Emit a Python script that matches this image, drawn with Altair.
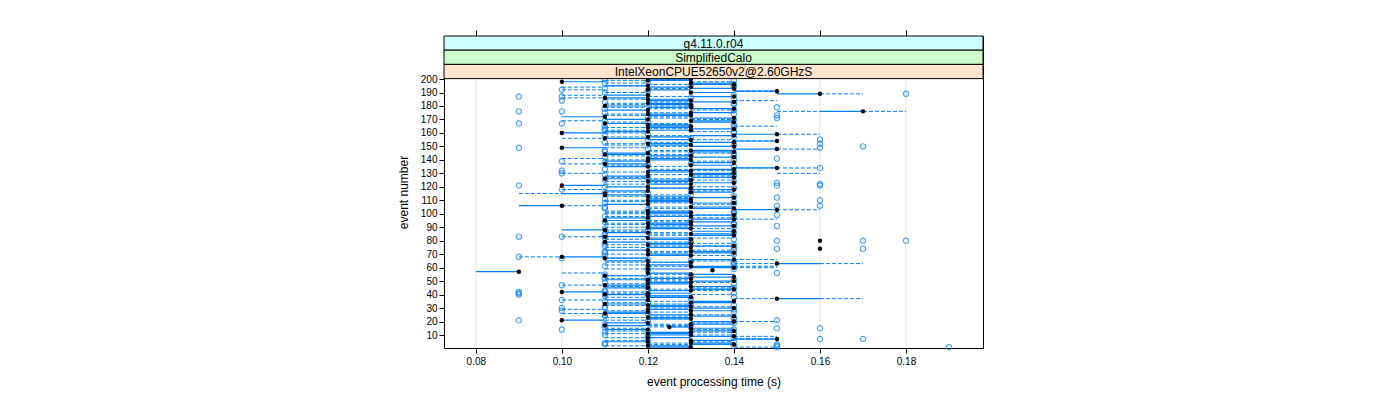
import altair as alt
import pandas as pd

# ---------------- data (times in hundredths of a second) ----------------
events = list(range(1, 201))

black = [13,12,14,13,12,13,15,12,14,13,
         12,13,14,12,13,12.5,11,13,12,14,
         10,13,12,14,13,11,12,13,12,14,
         13,12,11,13,14,12,15,13,12,11,
         12,10,13,14,12,13,11,12,13,14,
         12,13,14,11,13,12,9,13.5,12,14,
         13,12,15,13,12,14,11,10,13,12,
         14,13,12,16,13,14,12,13,11,16,
         13,12,11,14,13,12,14,11,13,12,
         14,13,12,13,11,14,12,13,14,12,
         13,12,15,14,13,10,12,14,13,12,
         13,14,12,11,11,13,12,14,13,12,
         10,13,14,12,13,11,14,12,13,14,
         12,13,14,15,12,13,11,14,12,13,
         12,14,13,11,12,14,13,15,10,14,
         13,12,14,15,13,11,12,14,15,10,
         12,13,14,12,13,12,11,14,13,12,
         14,11,13,12,13,17,12,14,13,11,
         13,12,14,13,12,11,14,12,16,13,
         15,12,14,13,12,14,13,10,12,13]

solid_to = [12,13,13,14,11,14,14,13,13,12,
            13,12,13,11,14,13,12,14,11,13,
            11,12,13,13,12,12,11,14,13,13,
            12,13,12,14,13,11,16,12,13,12,
            13,11,12,13,11,14,12,13,12,13,
            11,12,13,12,14,13,8,13.5,13,13,
            14,13,16,12,11,13,12,11,12,13,
            13,14,11,16,12,13,13,12,12,16,
            12,13,12,13,14,11,13,10,12,13,
            13,12,13,14,12,13,11,12,13,13,
            12,13,14,13,14,9,11,13,12,13,
            12,13,13,12,10,14,11,13,12,11,
            11,12,13,13,12,12,13,11,14,13,
            13,12,13,14,11,14,12,13,11,12,
            13,13,12,12,11,13,14,14,11,13,
            12,13,13,14,12,12,13,13,14,11,
            11,12,13,13,12,13,12,13,14,11,
            13,10,12,13,14,16,11,13,12,12,
            12,13,13,12,13,12,13,11,15,14,
            14,13,13,12,11,13,14,11,13,12]

dash_lo = [14,11,12,12,13,11,14,11,14,13,
           11,13,11,13,11,12,12,12,13,14,
           11,12,11,12,13,10,12,11,10,12,
           13,11,12,11,12,10,16,11,12,13,
           11,11,13,12,13,11,10,11,12,12,
           12,11,12,11,12,10,9,13,11,14,
           12,11,16,11,13,14,11,9,13,11,
           12,12,13,16,11,12,11,13,12,16,
           11,13,10,12,12,12,11,11,13,11,
           12,11,11,12,12,14,13,11,12,11,
           11,11,15,12,12,10,13,12,11,11,
           12,12,11,12,9,11,13,10,12,13,
           10,11,12,11,13,12,11,13,12,15,
           11,13,12,15,12,11,10,12,13,11,
           10,12,11,12,13,12,12,15,11,12,
           11,11,12,14,13,10,11,12,15,11,
           13,11,12,11,14,12,12,11,10,13,
           12,12,11,11,12,15,13,12,11,12,
           11,11,12,14,11,10,12,10,16,11,
           14,10,12,10,11,12,11,13,11,12]

dash_hi = [15,12,13,13,14,12,15,12,15,14,
           12,14,12,14,12,13,13,13,14,15,
           12,13,12,13,14,11,13,12,11,13,
           14,12,13,12,13,11,17,12,13,14,
           12,12,14,14,14,12,11,12,14,13,
           13,12,13,12,13,11,9,13,12,15,
           13,12,17,13,14,15,12,10,14,12,
           13,13,14,16,12,14,12,14,13,16,
           12,14,11,13,13,13,12,12,14,12,
           13,12,12,13,13,15,14,12,14,12,
           12,12,16,13,13,11,14,13,12,12,
           13,13,12,13,10,12,14,11,13,14,
           11,12,13,12,14,13,12,14,13,16,
           12,14,13,16,13,12,11,12,14,12,
           11,13,12,13,14,13,13,16,12,13,
           12,12,14,15,14,11,12,14,16,12,
           14,12,13,12,15,13,13,12,11,14,
           13,13,12,12,13,16,14,13,12,13,
           12,12,13,15,12,11,13,11,17,12,
           15,11,13,11,12,13,12,14,12,13]

extra_dash_event = [176, 130, 7, 134, 63, 37, 61, 191]
extra_dash_lo = [17, 10, 14, 14, 14, 14, 14, 14]
extra_dash_hi = [18, 11, 15, 15, 15, 15, 15, 15]

circles = [[15,19],[14,15],[11,15],[11],[14],[12],[16,17],[14],[12],[11],
           [14],[11],[12],[10,14],[15,16],[11],[13],[11],[14],[12],
           [9,15],[14],[14],[11],[11],[12],[14],[10],[14],[10,11],
           [11],[14],[13],[12],[11],[10],[13],[14],[11],[9,12],
           [9,14],[9,11],[11],[12],[14],[12],[10],[14],[11],[12],
           [14],[11],[12],[13],[11],[15],[],[12],[14],[12],
           [11],[14],[14],[14],[13],[12],[10],[9],[11],[14],
           [11],[11],[14],[15,17],[14],[11],[14],[11],[13],[15,17,18],
           [14],[11],[9,10],[11],[11],[14],[12],[12],[11],[14],
           [15],[14],[14],[11],[13],[12],[14],[11],[15],[14],
           [14],[14],[12],[11],[11],[15,16],[14],[11],[14],[16],
           [11],[15],[14],[13],[12],[11],[13],[10],[14],[11],
           [9,15,16],[16],[15],[14],[11],[13],[12],[14],[11],[10],
           [14],[10],[11],[16],[14],[12],[13],[11],[10],[14],
           [15],[11],[14],[13],[14],[11],[11],[12],[9,16],[17],
           [14],[16],[11],[12],[16],[13],[14],[11],[12],[14],
           [14],[11],[11],[14],[11],[14],[9,10],[12],[11],[14],
           [15],[12],[15],[14],[11],[9,10],[14],[11],[15],[13],
           [14],[14],[11],[10],[14],[13],[9,10],[14],[18],[11],
           [12],[10],[11],[14],[13],[14],[11],[12],[14],[11]]

x_ticks = [0.08, 0.10, 0.12, 0.14, 0.16, 0.18]
y_ticks = list(range(10, 201, 10))
strip_labels = ["g4.11.0.r04", "SimplifiedCalo", "IntelXeonCPUE52650v2@2.60GHzS"]
strip_colors = ["#CCFFFF", "#CCFFCC", "#FFE5CC"]

# ---------------- tables ----------------
black_df = pd.DataFrame({"event": events, "time": [b / 100 for b in black]})

solid_rows = [(e, min(b, s) / 100, max(b, s) / 100)
              for e, b, s in zip(events, black, solid_to) if s != b]
solid_df = pd.DataFrame(solid_rows, columns=["event", "x1", "x2"])

dash_rows = [(e, lo / 100, hi / 100) for e, lo, hi in zip(events, dash_lo, dash_hi) if hi != lo]
dash_rows += [(e, lo / 100, hi / 100) for e, lo, hi in zip(extra_dash_event, extra_dash_lo, extra_dash_hi)]
dash_df = pd.DataFrame(dash_rows, columns=["event", "x1", "x2"])

circ_rows = [(e, c / 100) for e, cs in zip(events, circles) for c in cs]
circ_df = pd.DataFrame(circ_rows, columns=["event", "time"])

tick_df = pd.DataFrame({"tick": x_ticks})

# ---------------- chart ----------------
W, H = 539, 312
STRIP_H = 14.2
BLUE = "#0080FF"
FONT = "Liberation Sans"

xscale = alt.Scale(domain=[0.0726, 0.1979], nice=False, zero=False)
yscale = alt.Scale(domain=[0.35, 231.95], nice=False, zero=False)

grid = alt.Chart(tick_df).mark_rule(color="#E6E6E6", strokeWidth=1).encode(
    x=alt.X("tick:Q", scale=xscale,
            axis=alt.Axis(orient="top", values=x_ticks, labels=False, title=None,
                          grid=False, domain=False, ticks=True, tickSize=6,
                          tickColor="black")),
    y=alt.value(0), y2=alt.value(H),
)

dashed = alt.Chart(dash_df).mark_rule(color=BLUE, strokeWidth=1, strokeDash=[4, 2]).encode(
    x=alt.X("x1:Q", scale=xscale,
            axis=alt.Axis(orient="bottom", values=x_ticks, format=".2f",
                          title="event processing time (s)", grid=False,
                          domain=False, tickSize=5, labelPadding=3, titlePadding=10)),
    x2="x2:Q",
    y=alt.Y("event:Q", scale=yscale,
            axis=alt.Axis(orient="left", values=y_ticks, title="event number", grid=False,
                          domain=False, tickSize=5, labelPadding=2, titlePadding=10)),
)

solid = alt.Chart(solid_df).mark_rule(color=BLUE, strokeWidth=1.2).encode(
    x=alt.X("x1:Q", scale=xscale, axis=None),
    x2="x2:Q",
    y=alt.Y("event:Q", scale=yscale, axis=None),
)

open_pts = alt.Chart(circ_df).mark_point(shape="circle", filled=False, color=BLUE,
                                         size=28, strokeWidth=1.2).encode(
    x=alt.X("time:Q", scale=xscale, axis=None),
    y=alt.Y("event:Q", scale=yscale, axis=None),
)

black_pts = alt.Chart(black_df).mark_circle(color="black", size=20, opacity=1).encode(
    x=alt.X("time:Q", scale=xscale, axis=None),
    y=alt.Y("event:Q", scale=yscale, axis=None),
)

strip_layers = []
for i, (lab, col) in enumerate(zip(strip_labels, strip_colors)):
    sd = pd.DataFrame({"label": [lab]})
    rect = alt.Chart(sd).mark_rect(fill=col, stroke="black", strokeWidth=1).encode(
        x=alt.value(0), x2=alt.value(W),
        y=alt.value(i * STRIP_H), y2=alt.value((i + 1) * STRIP_H),
    )
    txt = alt.Chart(sd).mark_text(font=FONT, fontSize=12, color="black",
                                  align="center", baseline="middle").encode(
        text="label:N",
        x=alt.value(W / 2), y=alt.value(i * STRIP_H + STRIP_H / 2 + 0.5),
    )
    strip_layers += [rect, txt]

chart = alt.layer(grid, dashed, solid, open_pts, black_pts, *strip_layers).resolve_axis(
    x="independent", y="independent"
).properties(
    width=W, height=H,
    autosize=alt.AutoSizeParams(type="none"),
    padding={"left": 436, "top": 28, "right": 10, "bottom": 44},
).configure_view(
    stroke="black", strokeWidth=1
).configure_axis(
    labelFont=FONT, titleFont=FONT, labelFontSize=10, titleFontSize=12,
    titleFontWeight="normal", labelColor="black", titleColor="black",
    tickColor="black",
)

chart.save("out.html", embed_options={"renderer": "svg", "actions": False})
